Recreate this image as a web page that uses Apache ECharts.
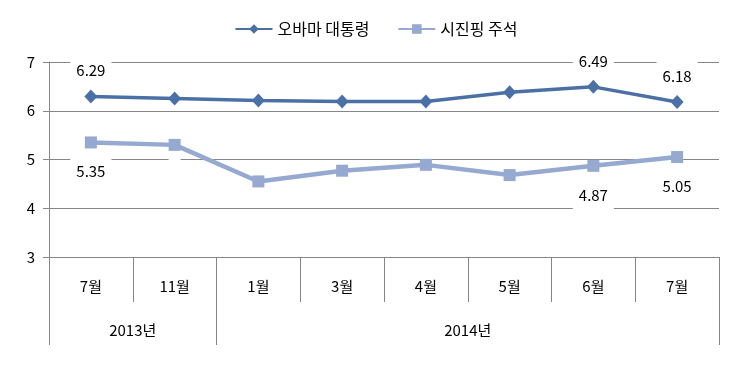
<!DOCTYPE html>
<html><head><meta charset="utf-8">
<script src="https://cdn.jsdelivr.net/npm/echarts@6/dist/echarts.min.js"></script>
<style>html,body{margin:0;padding:0;background:#fff}#c{width:752px;height:372px}</style>
</head><body><div id="c"></div>
<script>
const months = ['7월','11월','1월','3월','4월','5월','6월','7월'];
const years = ['2013년','2014년'];
const yearSpans = [2, 6];
const obama = [6.29, 6.25, 6.21, 6.19, 6.19, 6.38, 6.49, 6.18];
const xi = [5.35, 5.30, 4.55, 4.77, 4.89, 4.68, 4.87, 5.05];
const labelIdx = [0, 6, 7];
const seriesNames = ['오바마 대통령', '시진핑 주석'];

const font = '"Noto Sans CJK KR","Noto Sans",sans-serif';
const gray = '#868686';

// year group boundaries & centers in category units
const bounds = [0]; yearSpans.forEach(s => bounds.push(bounds[bounds.length-1] + s));
const centers = yearSpans.map((s, i) => bounds[i] + s / 2);

function lbl(pos, dist) {
  return {
    show: true, position: pos, distance: dist,
    fontFamily: font, fontSize: 15, color: '#000', lineHeight: 18,
    backgroundColor: '#fff', padding: [6, 6],
    formatter: p => labelIdx.includes(p.dataIndex) ? p.value.toFixed(2) : ''
  };
}

const chart = echarts.init(document.getElementById('c'));
chart.setOption({
  animation: false,
  legend: {
    top: 16, left: 'center', itemWidth: 37, itemHeight: 12, itemGap: 28,
    textStyle: { fontFamily: font, fontSize: 16, color: '#000' },
    data: seriesNames
  },
  grid: { left: 49, right: 33, top: 62, bottom: 115, containLabel: false },
  xAxis: [
    {
      type: 'category', data: months, position: 'bottom',
      axisLine: { show: true, lineStyle: { color: gray, width: 1 } },
      axisTick: { show: true, interval: 0, length: 45, lineStyle: { color: gray } },
      axisLabel: { interval: 0, margin: 22, fontFamily: font, fontSize: 15, color: '#000' }
    },
    {
      type: 'value', min: 0, max: months.length, position: 'bottom',
      axisLine: { show: false },
      splitLine: { show: false },
      axisTick: { show: true, customValues: bounds, length: 88, lineStyle: { color: gray } },
      axisLabel: {
        customValues: centers, margin: 66, fontFamily: font, fontSize: 15, color: '#000',
        formatter: v => years[centers.indexOf(v)]
      }
    }
  ],
  yAxis: {
    type: 'value', min: 3, max: 7, interval: 1,
    axisLine: { show: true, lineStyle: { color: gray } },
    axisTick: { show: true, length: 6, lineStyle: { color: gray } },
    splitLine: { show: true, lineStyle: { color: gray, width: 1 } },
    axisLabel: { margin: 14, fontFamily: font, fontSize: 15, color: '#000' }
  },
  series: [
    {
      name: seriesNames[0], type: 'line', data: obama, xAxisIndex: 0,
      symbol: 'diamond', symbolSize: [13, 14],
      lineStyle: { color: '#4A70A6', width: 3.5 },
      itemStyle: { color: '#4A70A6' },
      label: lbl('top', 4), z: 3
    },
    {
      name: seriesNames[1], type: 'line', data: xi, xAxisIndex: 0,
      symbol: 'rect', symbolSize: 12,
      lineStyle: { color: '#95A9D1', width: 4.5 },
      itemStyle: { color: '#95A9D1' },
      label: lbl('bottom', 8), z: 2
    }
  ]
});
</script></body></html>
